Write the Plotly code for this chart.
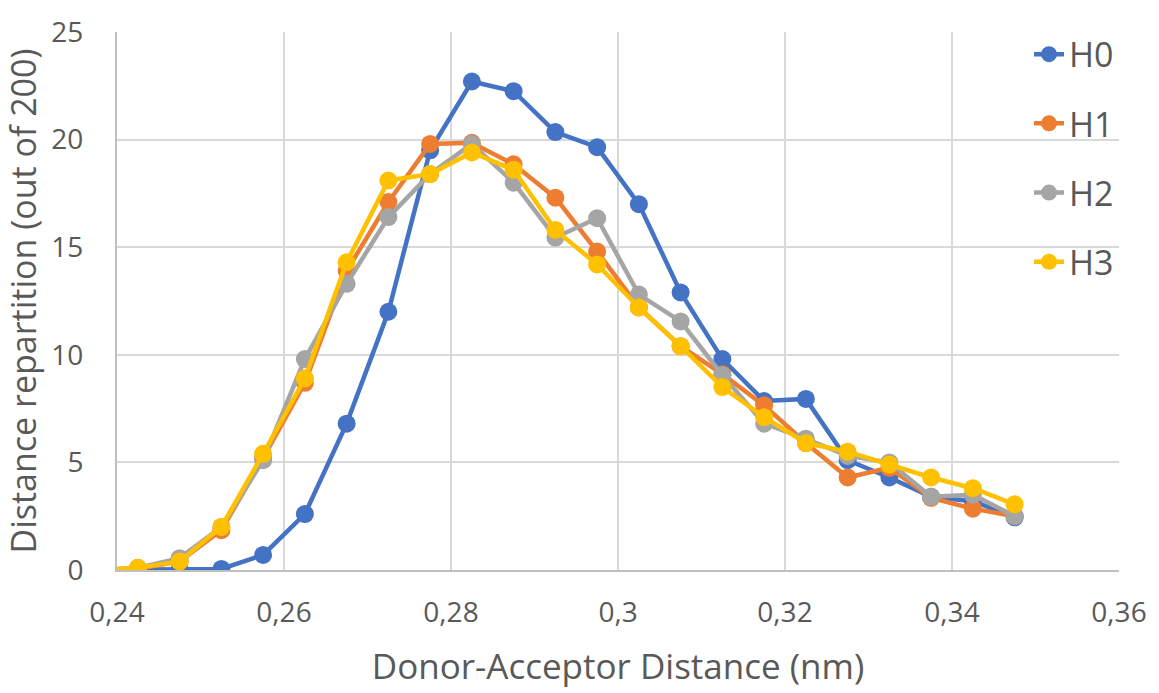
import plotly.graph_objects as go

x_nm = [0.2375, 0.2425, 0.2475, 0.2525, 0.2575, 0.2625, 0.2675, 0.2725, 0.2775, 0.2825,
        0.2875, 0.2925, 0.2975, 0.3025, 0.3075, 0.3125, 0.3175, 0.3225, 0.3275, 0.3325,
        0.3375, 0.3425, 0.3475]

h0 = [0.0, 0.0, 0.05, 0.05, 0.7, 2.6, 6.8, 12.0, 19.5, 22.7, 22.25, 20.35, 19.65, 17.0,
      12.9, 9.8, 7.85, 7.95, 5.1, 4.3, 3.4, 3.2, 2.45]
h1 = [0.0, 0.05, 0.4, 1.85, 5.2, 8.7, 13.9, 17.1, 19.8, 19.85, 18.85, 17.3, 14.8, 12.2,
      10.4, 9.1, 7.65, 5.9, 4.3, 4.75, 3.35, 2.85, 2.5]
h2 = [0.0, 0.1, 0.55, 2.0, 5.1, 9.8, 13.3, 16.4, 18.4, 19.8, 18.0, 15.45, 16.35, 12.8,
      11.55, 9.05, 6.8, 6.1, 5.3, 5.0, 3.4, 3.5, 2.5]
h3 = [0.0, 0.1, 0.4, 2.0, 5.4, 8.9, 14.3, 18.1, 18.4, 19.4, 18.6, 15.8, 14.2, 12.2,
      10.4, 8.5, 7.1, 5.9, 5.5, 4.9, 4.3, 3.8, 3.05]

series = [("H0", h0, "#4472C4"), ("H1", h1, "#ED7D31"), ("H2", h2, "#A5A5A5"), ("H3", h3, "#FFC000")]

FONT = "Open Sans"
TXT = "#595959"

fig = go.Figure()
for name, ys, col in series:
    fig.add_trace(go.Scatter(
        x=x_nm, y=ys, name=name, mode="lines+markers", legendgroup=name,
        line=dict(color=col, width=4.5),
        marker=dict(color=col, size=18),
        cliponaxis=True,
    ))

fig.update_layout(
    width=1159, height=693,
    margin=dict(l=117, r=34, t=25, b=123),
    paper_bgcolor="white", plot_bgcolor="white",
    separators=",.",
    font=dict(family=FONT, color=TXT),
    showlegend=True,
    legend=dict(
        x=1.0, xanchor="right", y=1.012, yanchor="top",
        bgcolor="rgba(0,0,0,0)", font=dict(size=34, color=TXT, family=FONT),
        tracegroupgap=22, itemwidth=30,
    ),
    xaxis=dict(
        range=[0.24, 0.36], tickvals=[0.24, 0.26, 0.28, 0.3, 0.32, 0.34, 0.36],
        showgrid=True, gridcolor="#D9D9D9", gridwidth=2,
        showline=True, linecolor="#BFBFBF", linewidth=2,
        zeroline=False, ticks="", ticklabelstandoff=16,
        tickfont=dict(size=28, color=TXT),
        title=dict(text="Donor-Acceptor Distance (nm)", font=dict(size=35, color=TXT), standoff=26),
    ),
    yaxis=dict(
        range=[0, 25], tickvals=[0, 5, 10, 15, 20, 25],
        showgrid=True, gridcolor="#D9D9D9", gridwidth=2,
        showline=True, linecolor="#BFBFBF", linewidth=2,
        zeroline=False, ticks="", ticklabelstandoff=26,
        tickfont=dict(size=28, color=TXT),
        title=dict(text="Distance repartition (out of 200)", font=dict(size=34, color=TXT), standoff=8),
    ),
)

fig.write_html("out.html")
